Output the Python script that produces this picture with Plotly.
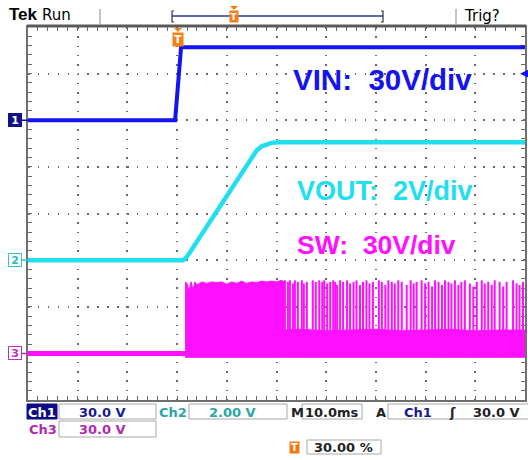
import plotly.graph_objects as go

# ---------------- data (read from the screen) ----------------
# time in ms (10 ms/div, trigger at 30 % -> screen spans -30..70 ms)
vin_t = [-30, -0.4, 0.8, 70]
vin_v = [0, 0, 47, 47]                      # volts, 30 V/div

vout_t = [-30, 1.2, 2.0, 16.0, 17.0, 18.0, 19.0, 20.5, 70]
vout_v = [0, 0, 0.15, 4.7, 4.88, 4.98, 5.03, 5.06, 5.06]     # volts, 2 V/div

sw_base_t = [-30, 1.6]
sw_base_v = [0, 0]

sw_burst_t = [1.6, 2.0, 2.4, 2.8, 3.2, 3.6, 4.0, 5.0, 6.0, 7.0, 8.0, 9.0, 10.0,
              11.0, 12.0, 13.0, 14.0, 15.0, 16.0, 17.0, 18.0, 19.0, 20.0, 21.0, 21.6]
sw_burst_v = [46, 45, 40, 46, 41, 46, 44, 46, 45, 46, 45.5, 46, 44.5,
              46, 45, 46.5, 45, 46, 45.5, 46.5, 46, 46.5, 46, 47, 46]
sw_floor_v = -2.5

sw_band_t = [21.6, 25, 30, 35, 40, 45, 50, 55, 60, 65, 70]
sw_band_v = [15, 15.5, 14.5, 15, 15.5, 14.5, 15, 15.5, 14.5, 15, 15]

sw_spike_t = [21.7, 22.3, 22.7, 23.3, 23.7, 24.3, 25.1, 25.5, 26.1, 27.3, 27.9, 28.6,
              29.2, 29.6, 30.2, 30.8, 31.4, 31.8, 32.2, 32.8, 33.4, 34.2, 34.8, 35.5,
              36.1, 36.8, 37.4, 38.1, 38.7, 39.4, 40.6, 41.2, 41.9, 42.5, 43.2, 43.8,
              44.5, 45.2, 46.2, 47.0, 47.6, 48.2, 49.2, 49.9, 50.6, 51.3, 51.9, 52.6,
              53.3, 53.9, 54.6, 55.2, 55.9, 56.6, 57.2, 57.9, 58.9, 59.6, 60.3, 61.3,
              61.9, 62.6, 63.3, 63.9, 64.9, 65.6, 66.3, 67.6, 68.3, 68.9, 69.6]
sw_spike_v = [47, 46, 47, 45, 47, 46, 47, 45, 46, 47, 46, 47,
              46, 47, 45, 46, 47, 46, 44, 47, 46, 47, 45, 46,
              47, 44, 46, 47, 45, 46, 47, 46, 44, 47, 46, 45,
              47, 46, 44, 47, 45, 46, 47, 45, 46, 43, 47, 46,
              44, 47, 46, 45, 47, 44, 46, 47, 45, 43, 46, 47,
              45, 46, 44, 47, 46, 43, 46, 47, 45, 44, 46]

# channel settings: (screen offset in div, volts/div)
CH1 = (2.0, 30.0)
CH2 = (-1.0, 2.0)
CH3 = (-3.0, 30.0)

BLUE = "#1414f0"
CYAN = "#22dff0"
MAG = "#ff10ff"


def div(vals, ch):
    return [None if v is None else ch[0] + v / ch[1] for v in vals]


fig = go.Figure()

# SW burst block
fig.add_trace(go.Scatter(
    x=sw_burst_t + sw_burst_t[::-1],
    y=div(sw_burst_v + [sw_floor_v] * len(sw_burst_t), CH3),
    fill="toself", fillcolor=MAG, line=dict(color=MAG, width=1),
    mode="lines", hoverinfo="skip", showlegend=False))
# SW band after burst
fig.add_trace(go.Scatter(
    x=sw_band_t + sw_band_t[::-1],
    y=div(sw_band_v + [sw_floor_v] * len(sw_band_t), CH3),
    fill="toself", fillcolor=MAG, line=dict(color=MAG, width=1),
    mode="lines", hoverinfo="skip", showlegend=False))
# SW spikes
sx, sy = [], []
for t, v in zip(sw_spike_t, sw_spike_v):
    sx += [t, t, None]
    sy += [0, v, None]
fig.add_trace(go.Scatter(x=sx, y=div(sy, CH3), mode="lines",
                         line=dict(color=MAG, width=2),
                         hoverinfo="skip", showlegend=False, connectgaps=False))
# SW baseline
fig.add_trace(go.Scatter(x=sw_base_t, y=div(sw_base_v, CH3), mode="lines",
                         line=dict(color=MAG, width=5),
                         hoverinfo="skip", showlegend=False))
# VOUT
fig.add_trace(go.Scatter(x=vout_t, y=div(vout_v, CH2), mode="lines",
                         line=dict(color=CYAN, width=4.5),
                         hoverinfo="skip", showlegend=False))
# VIN
fig.add_trace(go.Scatter(x=vin_t, y=div(vin_v, CH1), mode="lines",
                         line=dict(color=BLUE, width=4),
                         hoverinfo="skip", showlegend=False))

W, H = 528, 460
L, R, T, B = 28, 525, 27, 400


def px(x):
    return (x - L) / (R - L)


def py(y):
    return 1 - (y - T) / (B - T)


GRID = "#6a6a6a"
FRAME = "#707070"

ax_common = dict(showticklabels=False, zeroline=False, fixedrange=True)
fig.update_layout(
    width=W, height=H,
    margin=dict(l=L, r=W - R, t=T, b=H - B, autoexpand=False),
    paper_bgcolor="white", plot_bgcolor="rgba(0,0,0,0)",
    xaxis=dict(range=[-30, 70], dtick=10, tick0=0, showgrid=True,
               gridcolor=GRID, gridwidth=1.5, griddash="1.5px,7.8px",
               ticks="inside", ticklen=4, tickcolor=GRID,
               minor=dict(dtick=2, ticks="inside", ticklen=4, tickcolor=GRID, showgrid=False),
               showline=True, linecolor=FRAME, linewidth=2, mirror="allticks",
               layer="below traces", **ax_common),
    yaxis=dict(range=[-4, 4], dtick=1, tick0=0, showgrid=True,
               gridcolor=GRID, gridwidth=1.5, griddash="1.5px,8.4px",
               ticks="inside", ticklen=4, tickcolor=GRID,
               minor=dict(dtick=0.2, ticks="inside", ticklen=4, tickcolor=GRID, showgrid=False),
               showline=True, linecolor=FRAME, linewidth=2, mirror="allticks",
               layer="below traces", **ax_common),
    # center crosshair ticks
    xaxis2=dict(range=[-30, 70], overlaying="x", anchor="free", position=0.5,
                showgrid=False, showline=False, ticks="inside", ticklen=3, dtick=2,
                tickcolor=GRID, **ax_common),
    xaxis3=dict(range=[-30, 70], overlaying="x", anchor="free", position=0.5,
                showgrid=False, showline=False, ticks="outside", ticklen=3, dtick=2,
                tickcolor=GRID, **ax_common),
    yaxis2=dict(range=[-4, 4], overlaying="y", anchor="free", position=0.5,
                showgrid=False, showline=False, ticks="inside", ticklen=3, dtick=0.2,
                tickcolor=GRID, **ax_common),
    yaxis3=dict(range=[-4, 4], overlaying="y", anchor="free", position=0.5,
                showgrid=False, showline=False, ticks="outside", ticklen=3, dtick=0.2,
                tickcolor=GRID, **ax_common),
)

shapes = []
ann = []

FONT = "DejaVu Sans"

# top frame thicker
shapes.append(dict(type="line", xref="paper", yref="paper", x0=px(27), x1=px(526),
                   y0=py(26), y1=py(26), line=dict(color="#5a5a5a", width=3)))

# ---- top status bar ----
ann.append(dict(x=px(7), y=py(15), xref="paper", yref="paper", xanchor="left", yanchor="middle",
                text="<b>Tek</b>", showarrow=False,
                font=dict(family="Liberation Sans", size=17, color="black")))
ann.append(dict(x=px(40), y=py(15), xref="paper", yref="paper", xanchor="left", yanchor="middle",
                text="Run", showarrow=False,
                font=dict(family=FONT, size=15, color="black")))
for xs in (100, 456):
    shapes.append(dict(type="line", xref="paper", yref="paper", x0=px(xs), x1=px(xs),
                       y0=py(9), y1=py(24), line=dict(color="#888888", width=1)))
shapes.append(dict(type="line", xref="paper", yref="paper", x0=px(172), x1=px(383),
                   y0=py(16), y1=py(16), line=dict(color="#2a3a9a", width=1.5)))
for xs, d in ((172, 1), (383, -1)):
    shapes.append(dict(type="path", xref="paper", yref="paper",
                       path=f"M {px(xs + 2*d)} {py(11)} L {px(xs)} {py(11)} L {px(xs)} {py(22)} L {px(xs + 2*d)} {py(22)}",
                       line=dict(color="#333333", width=1.2)))
ann.append(dict(x=px(462), y=py(16), xref="paper", yref="paper", xanchor="left", yanchor="middle",
                text="Trig?", showarrow=False,
                font=dict(family=FONT, size=15, color="black")))


def tmark(cx, cy, size=11):
    # orange trigger "T" tag with pointer on top
    shapes.append(dict(type="path", xref="paper", yref="paper",
                       path=f"M {px(cx-4)} {py(cy-9)} L {px(cx+4)} {py(cy-9)} L {px(cx)} {py(cy-5)} Z",
                       fillcolor="#f08018", line=dict(width=0)))
    ann.append(dict(x=px(cx), y=py(cy + 2), xref="paper", yref="paper", xanchor="center",
                    yanchor="middle", text="<b>T</b>", showarrow=False,
                    bgcolor="#f08018", borderpad=0, width=size - 1, height=size + 2,
                    font=dict(family=FONT, size=size, color="white")))


tmark(234, 15, 9)
tmark(178, 37, 11)

# ---- channel ground markers ----
for ch, col, fill, txtcol, label in ((CH1, "#12128a", "#12128a", "white", "1"),
                                     (CH2, "#30c8c8", "white", "#30b8c0", "2"),
                                     (CH3, "#c030c0", "white", "#c030c0", "3")):
    ann.append(dict(x=-30, y=ch[0], xref="x", yref="y", ax=-13, ay=0,
                    text=f"<b>{label}</b>", showarrow=True, arrowhead=0, arrowwidth=1.5,
                    arrowcolor=col, bgcolor=fill, bordercolor=col, borderwidth=1, borderpad=0,
                    width=12, height=12, standoff=0,
                    font=dict(family=FONT, size=11, color=txtcol)))

# trigger level arrow (right edge)
ann.append(dict(x=69.0, y=CH1[0] + 30 / CH1[1], xref="x", yref="y", ax=6, ay=0,
                text="", showarrow=True, arrowhead=2, arrowsize=1.2, arrowwidth=2,
                arrowcolor=BLUE))

# ---- channel labels inside the graticule ----
ann.append(dict(x=px(291), y=py(79), xref="paper", yref="paper", xanchor="left", yanchor="middle",
                text="<b>VIN:  30V/div</b>", showarrow=False,
                font=dict(color=BLUE, family="Liberation Sans", size=29.5)))
ann.append(dict(x=px(295), y=py(191), xref="paper", yref="paper", xanchor="left", yanchor="middle",
                text="<b>VOUT:  2V/div</b>", showarrow=False,
                font=dict(color=CYAN, family="Liberation Sans", size=27)))
ann.append(dict(x=px(295), y=py(245), xref="paper", yref="paper", xanchor="left", yanchor="middle",
                text="<b>SW:  30V/div</b>", showarrow=False,
                font=dict(color=MAG, family="Liberation Sans", size=26.5)))

# ---- bottom readout boxes ----
BOX = "#a8a8a8"


def box(x0, x1, y0, y1, fill="white", line=BOX):
    shapes.append(dict(type="rect", xref="paper", yref="paper", x0=px(x0), x1=px(x1),
                       y0=py(y1), y1=py(y0), fillcolor=fill, line=dict(color=line, width=1)))


def txt(x, y, s, col, anchor="left", size=13):
    ann.append(dict(x=px(x), y=py(y), xref="paper", yref="paper", xanchor=anchor, yanchor="middle",
                    text=f"<b>{s}</b>", showarrow=False,
                    font=dict(family=FONT, size=size, color=col)))


NAVY = "#1a1a8c"
TEAL = "#2aa6a6"
PURP = "#b02ab0"

box(27, 57, 404, 419, fill="#0c0c84", line="#0c0c84")
txt(42, 412, "Ch1", "white", "center")
box(59, 156, 404, 419)
txt(102, 412, "30.0 V", NAVY, "center")
txt(157, 412, "Ch2", TEAL)
box(189, 287, 404, 419)
txt(232, 412, "2.00 V", TEAL, "center")
txt(289, 412, "M", "#222222")
box(302, 362, 404, 419)
txt(332, 412, "10.0ms", "#222222", "center")
txt(374, 412, "A", "#222222")
box(388, 529, 404, 419)
txt(402, 412, "Ch1", NAVY)
txt(447, 412, "ʃ", "#222222")
txt(522, 412, "30.0 V", "#222222", "right")

txt(27, 429, "Ch3", PURP)
box(59, 156, 421, 437)
txt(102, 429, "30.0 V", PURP, "center")

ann.append(dict(x=px(294), y=py(447), xref="paper", yref="paper", xanchor="center", yanchor="middle",
                text="<b>T</b>", showarrow=False, bgcolor="#f07a10", borderpad=0, width=9, height=11,
                font=dict(family=FONT, size=10, color="white")))
box(307, 381, 440, 454)
txt(312, 447, "30.00 %", "#222222")

fig.update_layout(shapes=shapes, annotations=ann)

fig.write_html("out.html", config={"displayModeBar": False},
               post_script="document.body.style.margin='0px';document.body.style.padding='0px';")
